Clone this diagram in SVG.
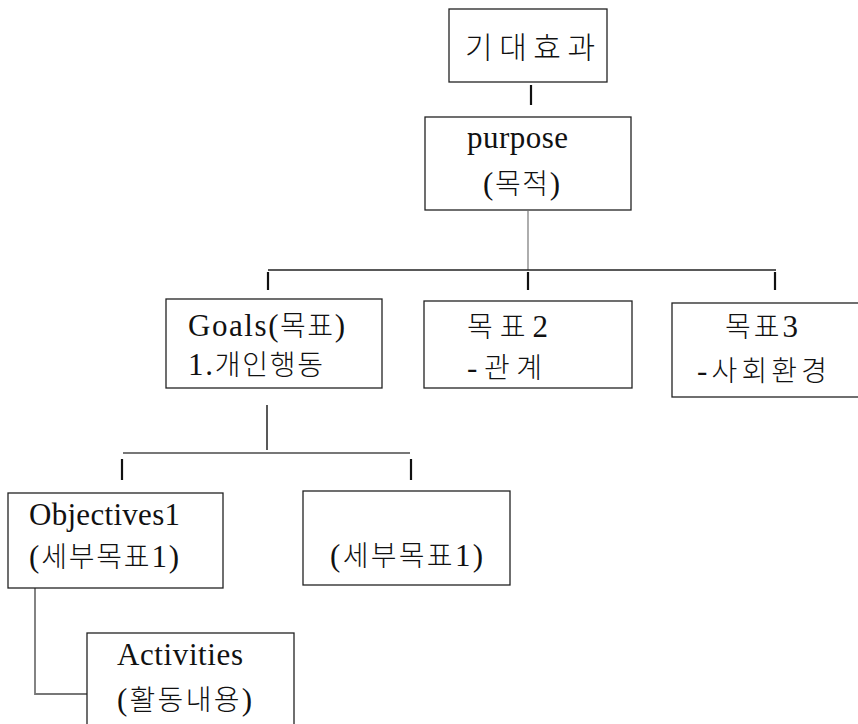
<svg xmlns="http://www.w3.org/2000/svg" width="858" height="724" viewBox="0 0 858 724">
<style>
.box{fill:#fff;stroke:#222;stroke-width:1.3}
.t{font-family:"Liberation Serif","Noto Sans CJK KR",serif;font-size:31px;fill:#111}
.k{font-family:"Noto Sans CJK KR","Liberation Serif",sans-serif;font-size:28px;font-weight:300}
.tick{stroke:#111;stroke-width:2.2}
.ln{stroke:#222;stroke-width:1.5;fill:none}
.gl{stroke:#777;stroke-width:1.8;fill:none}
</style>
<rect width="858" height="724" fill="#fff"/>
<g id="connectors">
<line class="tick" x1="531" y1="85" x2="531" y2="105"/>
<line class="gl" x1="528" y1="211" x2="528" y2="270" style="stroke-width:1.2"/>
<line class="ln" x1="268" y1="270" x2="776" y2="270"/>
<line class="tick" x1="268" y1="272" x2="268" y2="290"/>
<line class="tick" x1="528" y1="272" x2="528" y2="290"/>
<line class="tick" x1="775" y1="272" x2="775" y2="290"/>
<line class="ln" x1="267" y1="405" x2="267" y2="450"/>
<line class="gl" x1="123" y1="453" x2="410" y2="453"/>
<line class="tick" x1="122" y1="459" x2="122" y2="480"/>
<line class="tick" x1="411" y1="459" x2="411" y2="480"/>
<polyline class="gl" points="35,588 35,694 88,694"/>
</g>
<g id="node-expected">
<rect class="box" x="449" y="9" width="158" height="73"/>
<text class="t" x="465" y="58" textLength="130" lengthAdjust="spacing"><tspan class="k" style="font-size:30px">기대효과</tspan></text>
</g>
<g id="node-purpose">
<rect class="box" x="425" y="117" width="206" height="93"/>
<text class="t" x="467" y="148" textLength="101" lengthAdjust="spacing">purpose</text>
<text class="t" x="483" y="194" textLength="77" lengthAdjust="spacing">(<tspan class="k">목적</tspan>)</text>
</g>
<g id="node-goals">
<rect class="box" x="166" y="299" width="216" height="89"/>
<text class="t" x="188" y="336" textLength="157" lengthAdjust="spacing">Goals(<tspan class="k">목표</tspan>)</text>
<text class="t" x="188" y="375" textLength="135" lengthAdjust="spacing">1.<tspan class="k">개인행동</tspan></text>
</g>
<g id="node-goal2">
<rect class="box" x="424" y="301" width="208" height="87"/>
<text class="t" x="467" y="337" textLength="81" lengthAdjust="spacing"><tspan class="k">목표</tspan>2</text>
<text class="t" x="467" y="378" textLength="75" lengthAdjust="spacing">-<tspan class="k">관계</tspan></text>
</g>
<g id="node-goal3">
<rect class="box" x="672" y="303" width="200" height="94"/>
<text class="t" x="725" y="337" textLength="73" lengthAdjust="spacing"><tspan class="k">목표</tspan>3</text>
<text class="t" x="697" y="381" textLength="130" lengthAdjust="spacing">-<tspan class="k">사회환경</tspan></text>
</g>
<g id="node-objectives1">
<rect class="box" x="8" y="493" width="215" height="95"/>
<text class="t" x="29" y="525" textLength="151" lengthAdjust="spacing">Objectives1</text>
<text class="t" x="29" y="567" textLength="150" lengthAdjust="spacing">(<tspan class="k">세부목표</tspan>1)</text>
</g>
<g id="node-objectives2">
<rect class="box" x="303" y="491" width="207" height="94"/>
<text class="t" x="330" y="566" textLength="153" lengthAdjust="spacing">(<tspan class="k">세부목표</tspan>1)</text>
</g>
<g id="node-activities">
<rect class="box" x="87" y="633" width="207" height="100"/>
<text class="t" x="117" y="665" textLength="126" lengthAdjust="spacing">Activities</text>
<text class="t" x="117" y="710" textLength="135" lengthAdjust="spacing">(<tspan class="k">활동내용</tspan>)</text>
</g>
</svg>
